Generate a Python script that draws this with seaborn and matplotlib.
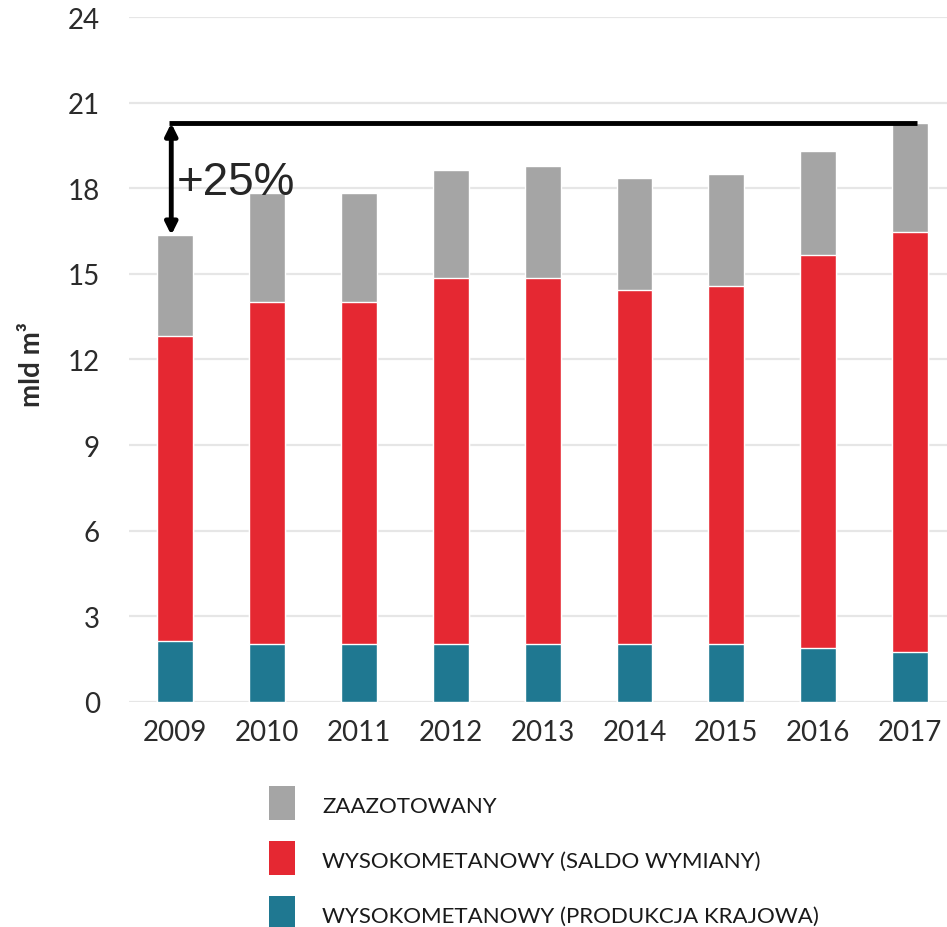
import numpy as np
import pandas as pd
import matplotlib
matplotlib.use('Agg')
import matplotlib.pyplot as plt
from matplotlib.patches import Rectangle
import seaborn as sns

# data (mld m3)
years = ['2009', '2010', '2011', '2012', '2013', '2014', '2015', '2016', '2017']
produkcja = [2.15, 2.03, 2.03, 2.03, 2.03, 2.03, 2.03, 1.89, 1.76]
saldo = [10.67, 11.99, 11.99, 12.82, 12.82, 12.41, 12.55, 13.78, 14.71]
zaazotowany = [3.54, 3.80, 3.83, 3.78, 3.92, 3.92, 3.91, 3.65, 3.81]

series_labels = ['ZAAZOTOWANY', 'WYSOKOMETANOWY (SALDO WYMIANY)', 'WYSOKOMETANOWY (PRODUKCJA KRAJOWA)']
colors = ['#a5a5a5', '#e52832', '#1f7891']
y_ticks = [0, 3, 6, 9, 12, 15, 18, 21, 24]

df = pd.DataFrame({'Year': years, 'Produkcja': produkcja, 'Saldo': saldo, 'Zaazotowany': zaazotowany})
df['Low'] = df['Produkcja']
df['Mid'] = df['Low'] + df['Saldo']
df['Top'] = df['Mid'] + df['Zaazotowany']

sns.set_style('white')
plt.rcParams['font.family'] = ['Lato', 'DejaVu Sans']

fig = plt.figure(figsize=(9.47, 9.28), dpi=100)
ax = fig.add_axes([0.1362, 0.2425, 0.8638, 0.7381])

#stacked bars, drawn from the tallest down
for col, c in zip(['Top', 'Mid', 'Low'], colors):
    sns.barplot(data=df, x='Year', y=col, color=c, saturation=1, width=0.39, ax=ax, zorder=2)

ax.set_ylim(0, 24)
ax.set_xlim(-0.5, 8.4)
ax.set_yticks(y_ticks)
ax.yaxis.grid(True, color='#e6e6e6', linewidth=1.6, zorder=0)
ax.set_axisbelow(True)
for s in ax.spines.values():
    s.set_visible(False)
ax.set_xlabel('')
ax.set_ylabel('')
ax.tick_params(axis='y', length=0, pad=21, labelsize=20, labelcolor='#2b2b2b')
ax.tick_params(axis='x', length=0, pad=12, labelsize=20, labelcolor='#2b2b2b')

#growth annotation 2009 -> 2017
start = df['Top'].iloc[0]
end = df['Top'].iloc[-1]
ax.plot([-0.06, len(years) - 1 + 0.07], [end, end], color='black', lw=3.5, solid_capstyle='butt', zorder=5)
ax.annotate('', xy=(-0.04, start), xytext=(-0.04, end),
            arrowprops=dict(arrowstyle='<|-|>,head_length=0.7,head_width=0.35', color='black', lw=3.5,
                            shrinkA=0, shrinkB=0), zorder=5)
ax.text(0.02, 17.8, '+25%', fontsize=33, family=['Liberation Sans', 'DejaVu Sans'], ha='left', va='baseline', zorder=6)

fig.text(32 / 947, 1 - 365 / 928, 'mld m³', rotation=90, ha='center', va='center', fontsize=20,
         fontweight='bold', color='#2b2b2b')

#legend, drawn by hand below the axes
W, H = 947, 928
for i, (lab, c) in enumerate(zip(series_labels, colors)):
    top = 787 + i * 55
    fig.add_artist(Rectangle((269 / W, 1 - (top + 34) / H), 26 / W, 34 / H, transform=fig.transFigure,
                             facecolor=c, edgecolor='none'))
    fig.text(322 / W, 1 - (top + 26) / H, lab, fontsize=16, color='#1a1a1a', ha='left', va='baseline')

fig.savefig('out.png', dpi=100)
